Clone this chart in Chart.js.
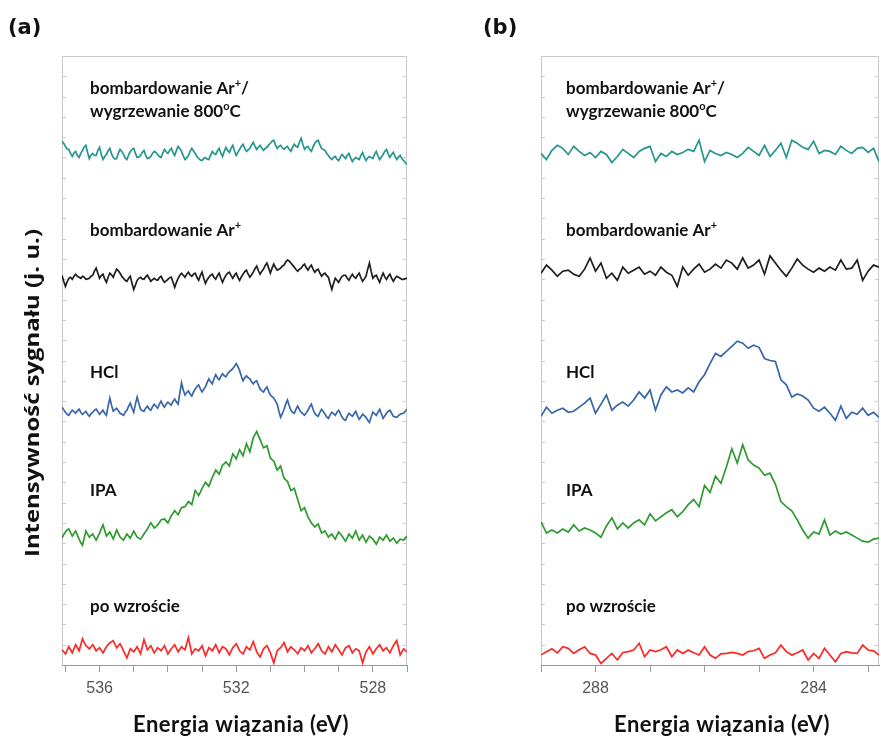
<!DOCTYPE html>
<html>
<head>
<meta charset="utf-8">
<script src="https://cdn.jsdelivr.net/npm/chart.js@4.4.0/dist/chart.umd.min.js"></script>
<style>
  body { margin: 0; background: #fff; width: 881px; height: 738px; position: relative; overflow: hidden; }
  canvas { position: absolute; top: 0; }
  #chartA { left: 0; }
  #chartB { left: 440px; }
</style>
</head>
<body>
<canvas id="chartA" width="440" height="738"></canvas>
<canvas id="chartB" width="441" height="738"></canvas>
<script>
// binding energy grids (eV), high -> low
const energyA = [
  537.10,537.05,537.00,536.95,536.90,536.85,536.80,536.75,536.70,536.65,536.60,536.55,536.50,536.45,536.40,536.35,536.30,536.25,536.20,536.15,
  536.10,536.05,536.00,535.95,535.90,535.85,535.80,535.75,535.70,535.65,535.60,535.55,535.50,535.45,535.40,535.35,535.30,535.25,535.20,535.15,
  535.10,535.05,535.00,534.95,534.90,534.85,534.80,534.75,534.70,534.65,534.60,534.55,534.50,534.45,534.40,534.35,534.30,534.25,534.20,534.15,
  534.10,534.05,534.00,533.95,533.90,533.85,533.80,533.75,533.70,533.65,533.60,533.55,533.50,533.45,533.40,533.35,533.30,533.25,533.20,533.15,
  533.10,533.05,533.00,532.95,532.90,532.85,532.80,532.75,532.70,532.65,532.60,532.55,532.50,532.45,532.40,532.35,532.30,532.25,532.20,532.15,
  532.10,532.05,532.00,531.95,531.90,531.85,531.80,531.75,531.70,531.65,531.60,531.55,531.50,531.45,531.40,531.35,531.30,531.25,531.20,531.15,
  531.10,531.05,531.00,530.95,530.90,530.85,530.80,530.75,530.70,530.65,530.60,530.55,530.50,530.45,530.40,530.35,530.30,530.25,530.20,530.15,
  530.10,530.05,530.00,529.95,529.90,529.85,529.80,529.75,529.70,529.65,529.60,529.55,529.50,529.45,529.40,529.35,529.30,529.25,529.20,529.15,
  529.10,529.05,529.00,528.95,528.90,528.85,528.80,528.75,528.70,528.65,528.60,528.55,528.50,528.45,528.40,528.35,528.30,528.25,528.20,528.15,
  528.10,528.05,528.00,527.95,527.90,527.85,527.80,527.75,527.70,527.65,527.60,527.55,527.50,527.45,527.40,527.35,527.30,527.25,527.20,527.15,
  527.10,527.05,527.00
];
const energyB = [
  289.0,288.9,288.8,288.7,288.6,288.5,288.4,288.3,288.2,288.1,
  288.0,287.9,287.8,287.7,287.6,287.5,287.4,287.3,287.2,287.1,
  287.0,286.9,286.8,286.7,286.6,286.5,286.4,286.3,286.2,286.1,
  286.0,285.9,285.8,285.7,285.6,285.5,285.4,285.3,285.2,285.1,
  285.0,284.9,284.8,284.7,284.6,284.5,284.4,284.3,284.2,284.1,
  284.0,283.9,283.8,283.7,283.6,283.5,283.4,283.3,283.2,283.1,
  283.0,282.9,282.8
];

// O 1s spectra, stacked (arb. units)
const annealA = [
  25.80,25.70,25.55,25.42,25.40,25.20,25.05,25.22,25.30,25.10,25.00,25.20,25.35,25.52,25.60,25.25,24.95,25.12,25.20,25.10,
  25.10,25.35,25.50,25.15,24.90,25.05,25.15,25.33,25.45,25.18,25.00,24.92,24.95,25.22,25.40,25.30,25.15,24.98,24.90,25.12,
  25.30,25.40,25.45,25.20,25.00,25.02,25.10,25.25,25.35,25.12,24.95,24.98,25.05,25.20,25.30,25.25,25.15,25.05,25.00,25.22,
  25.40,25.28,25.20,25.35,25.45,25.25,25.10,25.35,25.55,25.45,25.30,25.08,24.90,24.98,25.10,25.30,25.45,25.32,25.20,25.05,
  24.95,24.88,24.85,24.95,25.00,24.92,24.90,25.12,25.30,25.20,25.15,25.32,25.45,25.22,25.05,25.30,25.50,25.35,25.25,25.45,
  25.60,25.32,25.10,25.25,25.40,25.55,25.65,25.45,25.30,25.38,25.45,25.62,25.75,25.55,25.40,25.52,25.60,25.45,25.35,25.45,
  25.50,25.62,25.70,25.80,25.85,25.62,25.45,25.55,25.60,25.48,25.40,25.50,25.55,25.40,25.30,25.50,25.65,25.55,25.50,25.75,
  25.95,25.65,25.40,25.50,25.55,25.40,25.30,25.52,25.70,25.80,25.85,25.62,25.45,25.40,25.35,25.20,25.10,24.98,24.90,25.00,
  25.05,24.92,24.85,25.02,25.15,25.05,24.95,25.10,25.20,24.98,24.80,24.92,25.00,24.95,24.90,25.10,25.25,25.02,24.85,24.98,
  25.05,25.00,24.95,25.15,25.30,25.08,24.90,25.02,25.15,25.30,25.40,25.18,25.00,25.15,25.25,25.05,24.90,25.02,25.10,24.95,
  24.85,24.75,24.65
];
const sputterA = [
  19.20,18.90,18.65,18.88,19.05,19.10,19.00,19.15,19.25,19.15,19.10,19.05,19.15,19.10,19.00,19.02,19.05,19.15,19.20,19.40,
  19.55,19.30,19.05,19.18,19.25,19.02,18.85,19.10,19.30,19.22,19.10,19.32,19.50,19.42,19.30,19.15,19.05,18.95,18.90,19.05,
  19.15,18.80,18.50,18.72,18.95,19.05,19.10,19.02,19.00,19.12,19.20,19.05,18.90,18.98,19.05,18.98,18.95,19.08,19.15,18.98,
  18.85,18.92,19.00,19.08,19.10,18.85,18.60,18.85,19.05,19.20,19.30,19.20,19.10,19.25,19.35,19.22,19.15,19.25,19.30,19.10,
  18.95,19.18,19.35,19.05,18.80,18.98,19.10,19.20,19.25,19.10,19.00,19.18,19.30,19.05,18.85,19.05,19.20,19.30,19.35,19.18,
  19.05,19.20,19.30,19.10,18.95,19.12,19.25,19.38,19.45,19.25,19.10,19.22,19.35,19.52,19.65,19.42,19.25,19.40,19.50,19.68,
  19.80,19.55,19.30,19.55,19.75,19.58,19.45,19.50,19.55,19.65,19.70,19.85,19.95,19.90,19.80,19.70,19.60,19.48,19.40,19.50,
  19.55,19.68,19.75,19.58,19.45,19.60,19.70,19.50,19.35,19.45,19.50,19.30,19.15,19.25,19.30,19.18,19.10,18.78,18.50,18.80,
  19.05,18.95,18.85,19.02,19.15,19.20,19.20,19.05,18.95,19.12,19.25,19.12,19.05,19.20,19.30,19.08,18.90,19.02,19.15,19.50,
  19.80,19.40,19.05,19.15,19.20,19.02,18.85,19.10,19.30,19.12,19.00,19.15,19.25,19.05,18.90,19.05,19.15,19.10,19.05,19.00,
  19.00,19.04,19.05
];
const hclA = [
  12.70,12.58,12.45,12.35,12.30,12.45,12.55,12.48,12.40,12.52,12.60,12.45,12.35,12.42,12.50,12.35,12.25,12.38,12.45,12.55,
  12.60,12.48,12.35,12.45,12.55,12.40,12.30,12.75,13.15,12.80,12.50,12.58,12.65,12.52,12.40,12.35,12.30,12.45,12.55,12.75,
  12.90,12.65,12.45,12.85,13.20,12.88,12.60,12.52,12.50,12.65,12.75,12.62,12.55,12.72,12.85,12.75,12.65,12.85,13.00,12.82,
  12.70,12.85,12.95,12.88,12.80,12.98,13.10,12.95,12.85,13.40,13.90,13.55,13.30,13.42,13.50,13.35,13.25,13.45,13.60,13.72,
  13.80,13.60,13.45,13.58,13.70,13.92,14.10,13.95,13.85,14.10,14.30,14.15,14.05,14.22,14.35,14.25,14.20,14.35,14.45,14.52,
  14.60,14.72,14.85,14.70,14.50,14.22,14.00,14.15,14.25,14.15,14.10,13.95,13.85,13.95,14.00,13.78,13.60,13.50,13.45,13.60,
  13.70,13.48,13.30,13.22,13.15,13.00,12.85,12.50,12.20,12.38,12.60,12.85,13.05,12.78,12.55,12.45,12.40,12.60,12.75,12.58,
  12.45,12.38,12.30,12.42,12.55,12.72,12.85,12.60,12.40,12.30,12.25,12.45,12.60,12.48,12.35,12.22,12.15,12.32,12.45,12.38,
  12.30,12.45,12.55,12.38,12.20,12.10,12.05,12.25,12.40,12.32,12.25,12.38,12.50,12.28,12.10,12.22,12.35,12.28,12.20,12.05,
  11.95,12.22,12.45,12.38,12.30,12.45,12.60,12.38,12.15,12.28,12.40,12.50,12.55,12.40,12.25,12.22,12.20,12.28,12.35,12.38,
  12.40,12.50,12.60
];
const ipaA = [
  6.25,6.42,6.55,6.65,6.70,6.52,6.35,6.48,6.60,6.40,6.20,6.02,5.90,6.25,6.60,6.45,6.30,6.38,6.45,6.30,
  6.15,6.32,6.50,6.72,6.90,6.62,6.35,6.45,6.55,6.38,6.20,6.42,6.65,6.48,6.30,6.22,6.15,6.30,6.45,6.35,
  6.25,6.42,6.60,6.45,6.30,6.25,6.20,6.32,6.45,6.58,6.70,6.85,7.00,6.88,6.75,6.82,6.90,7.02,7.15,7.18,
  7.20,7.10,7.00,7.18,7.35,7.48,7.60,7.50,7.40,7.58,7.75,7.78,7.80,7.92,8.05,7.98,7.90,8.25,8.60,8.48,
  8.35,8.52,8.70,8.85,9.00,8.90,8.80,9.02,9.25,9.42,9.60,9.50,9.40,9.62,9.85,9.92,10.00,9.90,9.80,10.10,
  10.40,10.28,10.15,10.38,10.60,10.45,10.30,10.60,10.90,10.70,10.50,10.85,11.20,11.35,11.50,11.30,11.10,10.90,10.70,10.75,
  10.80,10.50,10.20,10.12,10.05,9.82,9.60,9.70,9.80,9.50,9.20,9.12,9.05,8.82,8.60,8.65,8.70,8.42,8.15,7.88,
  7.60,7.68,7.75,7.52,7.30,7.15,7.00,6.90,6.80,6.88,6.95,6.72,6.50,6.55,6.60,6.45,6.30,6.38,6.45,6.32,
  6.20,6.38,6.55,6.45,6.35,6.22,6.10,6.28,6.45,6.35,6.25,6.42,6.60,6.38,6.15,6.28,6.40,6.22,6.05,6.20,
  6.35,6.28,6.20,6.08,5.95,6.12,6.30,6.22,6.15,6.28,6.40,6.25,6.10,6.18,6.25,6.12,6.00,6.10,6.20,6.18,
  6.15,6.25,6.35
];
const grownA = [
  0.75,0.65,0.55,0.72,0.90,0.75,0.60,0.80,1.00,0.85,0.70,1.00,1.30,1.12,0.95,0.88,0.80,0.90,1.00,0.85,
  0.70,0.78,0.85,0.72,0.60,0.75,0.90,1.00,1.10,1.15,1.20,1.02,0.85,0.95,1.05,0.88,0.70,0.52,0.35,0.58,
  0.80,0.72,0.65,0.78,0.90,0.72,0.55,0.90,1.25,1.00,0.75,0.85,0.95,0.78,0.60,0.72,0.85,0.78,0.70,0.82,
  0.95,0.75,0.55,0.68,0.80,0.90,1.00,0.82,0.65,0.78,0.90,0.82,0.75,1.05,1.35,0.95,0.55,0.68,0.80,0.75,
  0.70,0.82,0.95,0.70,0.45,0.65,0.85,0.78,0.70,0.85,1.00,0.80,0.60,0.75,0.90,0.85,0.80,0.65,0.50,0.68,
  0.85,0.95,1.05,0.88,0.70,0.62,0.55,0.72,0.90,0.82,0.75,0.95,1.15,0.90,0.65,0.52,0.40,0.60,0.80,0.88,
  0.95,0.78,0.60,0.35,0.10,0.40,0.70,0.78,0.85,0.98,1.10,0.88,0.65,0.78,0.90,0.82,0.75,0.65,0.55,0.70,
  0.85,0.78,0.70,0.82,0.95,0.78,0.60,0.70,0.80,0.92,1.05,0.88,0.70,0.62,0.55,0.72,0.90,0.78,0.65,0.82,
  1.00,0.88,0.75,0.62,0.50,0.68,0.85,0.90,0.95,0.78,0.60,0.70,0.80,0.75,0.70,0.40,0.10,0.38,0.65,0.78,
  0.90,0.72,0.55,0.68,0.80,0.90,1.00,0.85,0.70,0.78,0.85,0.72,0.60,0.78,0.95,1.08,1.20,0.85,0.50,0.65,
  0.80,0.72,0.65
];

// C 1s spectra, stacked (arb. units)
const annealB = [
  25.20,24.90,25.35,25.60,25.45,25.15,25.55,25.30,25.10,25.25,
  25.00,25.30,25.15,24.75,25.05,25.40,25.20,25.00,25.30,25.45,
  25.55,24.80,25.20,25.05,25.30,25.15,25.25,25.40,25.30,25.85,
  24.80,25.35,25.20,25.10,25.25,25.15,25.00,25.20,25.50,25.30,
  25.10,25.60,25.05,25.35,25.70,25.00,25.85,25.70,25.50,25.40,
  25.80,25.20,25.35,25.30,25.15,25.55,25.35,25.20,25.45,25.50,
  25.25,25.45,24.80
];
const sputterB = [
  19.30,19.70,19.45,19.15,19.40,19.45,19.25,19.15,19.50,20.05,
  19.40,19.80,19.05,19.30,18.95,19.60,19.30,19.45,19.60,19.25,
  19.40,19.20,19.60,19.35,19.20,18.65,19.60,19.20,19.50,19.75,
  19.35,19.50,19.75,19.55,19.95,19.80,19.50,20.05,19.55,19.70,
  19.95,19.25,20.15,19.80,19.45,19.15,19.55,20.00,19.70,19.50,
  19.35,19.55,19.40,19.60,19.45,19.95,19.50,19.55,19.95,18.95,
  19.40,19.70,19.60
];
const hclB = [
  12.25,12.70,12.40,12.55,12.65,12.45,12.50,12.70,12.90,13.15,
  12.40,12.85,13.30,12.55,12.80,12.95,12.75,13.05,13.45,13.15,
  13.55,12.55,13.30,13.70,13.45,13.55,13.40,13.65,13.45,13.95,
  14.30,14.85,15.35,15.20,15.45,15.70,15.95,15.85,15.60,15.75,
  15.65,15.10,15.00,14.95,14.05,13.80,13.20,13.35,13.25,13.05,
  12.65,12.50,12.70,12.40,12.05,12.75,12.15,12.45,12.35,12.65,
  12.30,12.45,12.20
];
const ipaB = [
  7.05,6.50,6.65,6.50,6.70,6.55,6.90,6.60,6.75,6.65,
  6.50,6.30,6.85,7.25,6.70,7.00,6.75,7.00,7.15,6.90,
  7.45,7.10,7.30,7.50,7.65,7.30,7.55,7.90,8.15,7.80,
  8.85,8.50,9.30,8.95,9.75,10.65,9.95,10.85,10.10,9.85,
  9.70,9.35,9.45,8.90,8.05,7.80,7.60,7.15,6.65,6.25,
  6.55,6.45,7.15,6.40,6.60,6.45,6.55,6.40,6.25,6.10,
  6.05,6.20,6.25
];
const grownB = [
  0.50,0.65,0.80,0.60,0.90,0.82,0.57,0.75,0.90,0.57,
  0.49,0.08,0.33,0.57,0.25,0.62,0.66,0.74,1.07,0.41,
  0.74,0.66,0.75,0.90,0.41,0.74,0.57,0.74,0.60,0.49,
  0.90,0.49,0.33,0.55,0.57,0.62,0.57,0.49,0.66,0.70,
  0.82,0.33,0.49,0.60,0.98,0.66,0.49,0.60,0.74,0.25,
  0.57,0.33,0.82,0.49,0.16,0.57,0.66,0.60,0.57,0.98,
  0.74,0.70,0.49
];

// sample treatments, top to bottom; '^' marks a superscript character
const treatments = ['bombardowanie Ar^+/\nwygrzewanie 800^oC', 'bombardowanie Ar^+', 'HCl', 'IPA', 'po wzroście'];
const labelLevels = [28.4, 21.4, 14.4, 8.6, 2.86];

const ticksA = [537, 536, 535, 534, 533, 532, 531, 530, 529, 528, 527];
const majorA = [536, 532, 528];
const ticksB = [289, 288, 287, 286, 285, 284, 283];
const majorB = [288, 284];

const traceColors = ['#25968f', '#1e1e1e', '#3866aa', '#2e9a2f', '#ff2626'];
const TEXT_FONT = 'Lato, "Open Sans", sans-serif';

function drawRich(ctx, text, x, y, size) {
  const parts = text.split(/\^(.)/);
  let cx = x;
  parts.forEach((part, i) => {
    const sup = i % 2 === 1;
    ctx.font = 'bold ' + (sup ? Math.round(size * 0.62) : size) + 'px ' + TEXT_FONT;
    ctx.fillText(part, cx, sup ? y - size * 0.3 : y);
    cx += ctx.measureText(part).width;
  });
}

// box, inward minor ticks on both sides, treatment labels, titles
const decorations = {
  id: 'decorations',
  beforeDatasetsDraw(chart) {
    const { ctx, chartArea: a, scales: { y } } = chart;
    ctx.save();
    ctx.strokeStyle = '#c8c8c8';
    ctx.lineWidth = 1;
    ctx.beginPath();
    ctx.moveTo(a.left + 0.5, a.bottom);
    ctx.lineTo(a.left + 0.5, a.top + 0.5);
    ctx.lineTo(a.right - 0.5, a.top + 0.5);
    ctx.lineTo(a.right - 0.5, a.bottom);
    for (let v = y.min + 1; v < y.max; v++) {
      const py = Math.round(y.getPixelForValue(v)) + 0.5;
      ctx.moveTo(a.left, py); ctx.lineTo(a.left + 4, py);
      ctx.moveTo(a.right - 4, py); ctx.lineTo(a.right, py);
    }
    ctx.stroke();
    ctx.restore();
  },
  afterDraw(chart, args, opts) {
    const { ctx, chartArea: a, scales: { y } } = chart;
    ctx.save();
    ctx.fillStyle = '#111';
    ctx.textBaseline = 'middle';
    ctx.textAlign = 'left';
    treatments.forEach((name, k) => {
      name.split('\n').forEach((line, j) => {
        drawRich(ctx, line, a.left + opts.inset, y.getPixelForValue(labelLevels[k]) + j * 23, 17);
      });
    });

    ctx.textBaseline = 'alphabetic';
    ctx.font = 'bold 21px "DejaVu Sans"';
    ctx.fillText(opts.panel, opts.panelX, 34);

    ctx.textAlign = 'center';
    ctx.font = 'bold 22px ' + TEXT_FONT;
    ctx.letterSpacing = '0.5px';
    ctx.fillText('Energia wiązania (eV)', opts.titleX, 732);
    ctx.letterSpacing = '0px';

    if (opts.yTitle) {
      const title = 'Intensywność sygnału (j. u.)';
      ctx.font = 'bold 20px "Open Sans", sans-serif';
      const w = ctx.measureText(title).width;
      ctx.translate(39, 393);
      ctx.rotate(-Math.PI / 2);
      ctx.scale(opts.yTitleLength / w, 1);
      ctx.fillText(title, 0, 0);
    }
    ctx.restore();
  }
};

function spectrum(energy, values) {
  return values.map((v, i) => ({ x: energy[i], y: v }));
}

function makeChart(id, energy, series, range, tickList, majors, pad, deco) {
  return new Chart(document.getElementById(id), {
    type: 'line',
    data: {
      datasets: series.map((vals, k) => ({
        data: spectrum(energy, vals),
        borderColor: traceColors[k],
        borderWidth: 1.7,
        pointRadius: 0,
        tension: 0
      }))
    },
    options: {
      responsive: false,
      animation: false,
      layout: { padding: pad },
      plugins: { legend: { display: false }, tooltip: { enabled: false }, decorations: deco },
      scales: {
        x: {
          type: 'linear',
          reverse: true,
          min: range[0],
          max: range[1],
          afterBuildTicks: s => { s.ticks = tickList.map(v => ({ value: v })); },
          afterFit: s => { s.height = 73; },
          ticks: {
            autoSkip: false,
            maxRotation: 0,
            padding: 7,
            color: '#555',
            font: { family: '"Liberation Sans", Arial, sans-serif', size: 16 },
            callback: v => majors.includes(v) ? String(v) : ''
          },
          grid: { drawOnChartArea: false, tickLength: 7, color: '#999' },
          border: { color: '#999' }
        },
        y: { display: false, min: 0, max: 30 }
      }
    },
    plugins: [decorations]
  });
}

makeChart('chartA', energyA, [annealA, sputterA, hclA, ipaA, grownA], [527.0, 537.1], ticksA, majorA,
  { left: 62, right: 33, top: 56, bottom: 0 },
  { inset: 28, panel: '(a)', panelX: 8, titleX: 241, yTitle: true, yTitleLength: 328 });

makeChart('chartB', energyB, [annealB, sputterB, hclB, ipaB, grownB], [282.8, 289.0], ticksB, majorB,
  { left: 101, right: 2, top: 56, bottom: 0 },
  { inset: 25, panel: '(b)', panelX: 43, titleX: 282, yTitle: false });
</script>
</body>
</html>
